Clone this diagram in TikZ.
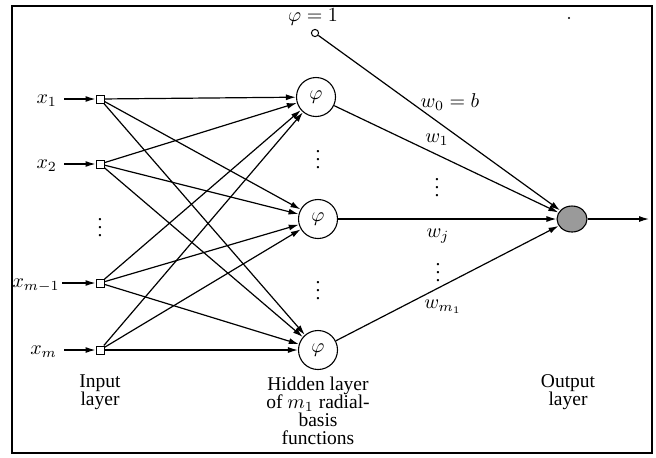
\documentclass[tikz,border=0pt]{standalone}
\usepackage{fontspec}
\setmainfont{Liberation Serif}
\usepackage{xcolor}
\definecolor{OutGray}{HTML}{9A9A9A}
\usepackage{tikz}
\usetikzlibrary{arrows.meta,positioning,shapes.geometric,calc}

\begin{document}
\begin{tikzpicture}[
  x=0.5pt,y=-0.5pt,
  font=\fontsize{9.75}{9}\selectfont,
  unit/.style={draw,fill=white,minimum size=4pt,inner sep=0pt,line width=0.5pt},
  rbf/.style={circle,draw,fill=white,minimum size=19.5pt,inner sep=0pt,line width=0.55pt},
  bias/.style={circle,draw,fill=white,minimum size=3.6pt,inner sep=0pt,line width=0.5pt},
  outunit/.style={ellipse,draw,fill=OutGray,minimum width=15pt,minimum height=13pt,inner sep=0pt,line width=0.55pt},
  arrow/.style={-{Latex[length=5pt,width=3pt]},line width=0.6pt},
  dots/.style={inner sep=0pt},
  caption/.style={align=center,inner sep=1pt}
]
  \useasboundingbox (0,0) rectangle (656,457);
  \draw[line width=1.3pt] (12,6) rectangle (652,453);
  \fill (569,18) circle (0.6pt);

  % input layer
  \node[unit] (in1) at (100,99) {};
  \node[unit] (in2) at (100,164) {};
  \node[unit] (in3) at (100,283) {};
  \node[unit] (in4) at (100,350) {};
  \node[dots] (dIn) at (100,222) {$\vdots$};

  \node[anchor=base east] (x1) at (64,103) {$x_1$};
  \node[anchor=base east] (x2) at (64,168) {$x_2$};
  \node[anchor=base east,inner sep=1pt] (x3) at (62,287) {$x_{m-1}$};
  \node[anchor=base east] (x4) at (64,354) {$x_m$};

  % hidden layer
  \node[rbf] (h1) at (316,97) {$\varphi$};
  \node[rbf] (h2) at (318,219) {$\varphi$};
  \node[rbf] (h3) at (318,350) {$\varphi$};
  \node[dots] (dH1) at (318,154) {$\vdots$};
  \node[dots] (dH2) at (318,285) {$\vdots$};

  \node[bias] (b0) at (315,33) {};
  \node (b0lbl) at (313,17) {$\varphi = 1$};

  % output layer
  \node[outunit] (out) at (572,219) {};
  \coordinate (y) at (649,219);

  \node[inner sep=1pt] (w0) at (450,102) {$w_0 = b$};
  \node[inner sep=1pt] (w1) at (437,140) {$w_1$};
  \node[dots] (dW1) at (437,182) {$\vdots$};
  \node[inner sep=1pt] (wj) at (438,236) {$w_j$};
  \node[dots] (dW2) at (438,267) {$\vdots$};
  \node[inner sep=1pt] (wm) at (443,307) {$w_{m_1}$};

  \node[caption] (inLbl) at (100,392) {Input\\layer};
  \node[caption] (hidLbl) at (318,411) {Hidden layer\\of $m_1$ radial-\\basis\\functions};
  \node[caption] (outLbl) at (568,392) {Output\\layer};

  \draw[arrow] (x1.east |- in1) -- (in1);
  \draw[arrow] (x2.east |- in2) -- (in2);
  \draw[arrow] (x3.east |- in3) -- (in3);
  \draw[arrow] (x4.east |- in4) -- (in4);

  \foreach \i in {1,...,4}
    \foreach \j in {1,2,3}
      \draw[arrow] (in\i) -- (h\j);

  \draw[arrow] (b0) -- (out);
  \draw[arrow] (h1) -- (out);
  \draw[arrow] (h2) -- (out);
  \draw[arrow] (h3) -- (out);
  \draw[arrow] (out) -- (y);
\end{tikzpicture}
\end{document}
